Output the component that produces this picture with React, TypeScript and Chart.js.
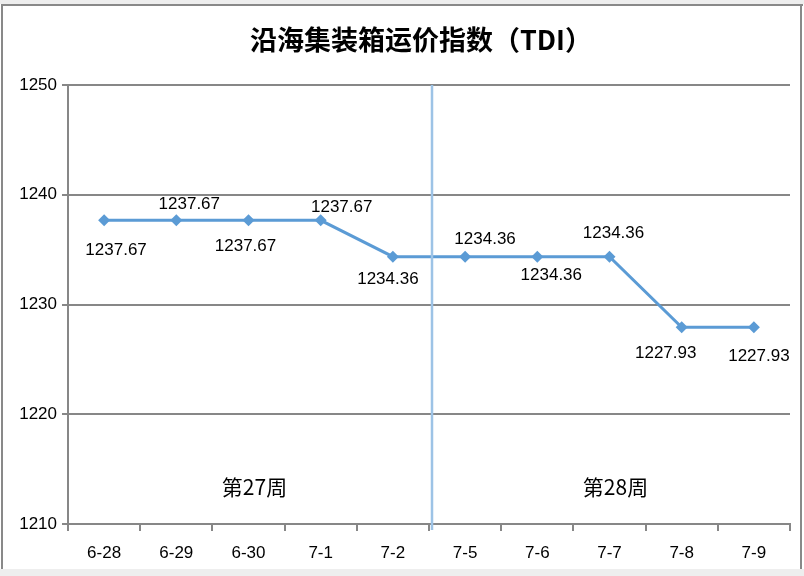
import React, { useEffect, useRef } from "react";
import { Chart, registerables } from "chart.js";

Chart.register(...registerables);

const categories = ["6-28", "6-29", "6-30", "7-1", "7-2", "7-5", "7-6", "7-7", "7-8", "7-9"];
const tdiValues = [1237.67, 1237.67, 1237.67, 1237.67, 1234.36, 1234.36, 1234.36, 1234.36, 1227.93, 1227.93];
const yMin = 1210;
const yMax = 1250;
const yStep = 10;
const chartTitle = "沿海集装箱运价指数（TDI）";
const weekLabels = ["第27周", "第28周"];
const weekStartIdx = [0, 5];
const weekEndIdx = [4, 9];

const LINE_COLOR = "#5b9bd5";
const SEP_COLOR = "#9dc3e6";
const GRID_COLOR = "#878787";
const FONT = "'Liberation Sans', Arial, sans-serif";

export default function App() {
  const ref = useRef<HTMLCanvasElement | null>(null);

  useEffect(() => {
    const canvas = ref.current;
    if (!canvas) return;

    const labelOffsets: [number, number][] = [
      [12, 30], [13, -16], [-3, 26], [21, -13], [-5, 23],
      [20, -17], [14, 19], [4, -23], [-16, 26], [5, 29],
    ];

    const framePlugin = {
      id: "frame",
      beforeDraw(chart: any) {
        const ctx = chart.ctx;
        ctx.save();
        ctx.fillStyle = "#ffffff";
        ctx.fillRect(0, 0, 804, 576);
        ctx.fillStyle = "#eeeeee";
        ctx.fillRect(0, 0, 804, 4);
        ctx.fillRect(0, 569, 804, 7);
        ctx.fillStyle = "#898989";
        ctx.fillRect(1, 4, 802, 2);
        ctx.fillRect(1, 4, 2, 565);
        ctx.fillRect(800, 4, 2, 565);
        // title
        ctx.fillStyle = "#000000";
        ctx.font = "bold 27px 'Noto Sans CJK SC', sans-serif";
        ctx.textAlign = "center";
        ctx.textBaseline = "middle";
        ctx.fillText(chartTitle, 421, 40);
        ctx.restore();
      },
    };

    const overlayPlugin = {
      id: "overlay",
      afterDatasetsDraw(chart: any) {
        const ctx = chart.ctx;
        const xs = chart.scales.x;
        const ys = chart.scales.y;
        const area = chart.chartArea;
        ctx.save();
        // separator between weeks
        const sepX = (xs.getPixelForValue(weekEndIdx[0]) + xs.getPixelForValue(weekStartIdx[1])) / 2 + 3;
        ctx.strokeStyle = SEP_COLOR;
        ctx.lineWidth = 2.5;
        ctx.beginPath();
        ctx.moveTo(sepX, area.top);
        ctx.lineTo(sepX, area.bottom + 6);
        ctx.stroke();
        // week labels
        ctx.fillStyle = "#000000";
        ctx.font = "21px 'Noto Sans CJK SC', sans-serif";
        ctx.textAlign = "center";
        ctx.textBaseline = "middle";
        const wy = ys.getPixelForValue(1213.4);
        weekLabels.forEach((w, i) => {
          const cx = (xs.getPixelForValue(weekStartIdx[i]) + xs.getPixelForValue(weekEndIdx[i])) / 2 + 6;
          ctx.fillText(w, cx, wy);
        });
        // data labels
        ctx.font = "17px " + FONT;
        const meta = chart.getDatasetMeta(0);
        meta.data.forEach((pt: any, i: number) => {
          const [dx, dy] = labelOffsets[i];
          ctx.fillText(tdiValues[i].toFixed(2), pt.x + dx, pt.y + dy);
        });
        ctx.restore();
      },
    };

    const chart = new Chart(canvas, {
      type: "line",
      data: {
        labels: categories,
        datasets: [
          {
            data: tdiValues,
            borderColor: LINE_COLOR,
            backgroundColor: LINE_COLOR,
            borderWidth: 3,
            pointStyle: "rectRot",
            pointRadius: 6,
            pointBorderWidth: 0,
            pointBackgroundColor: LINE_COLOR,
            tension: 0,
          },
        ],
      },
      options: {
        animation: false,
        responsive: false,
        devicePixelRatio: 1,
        layout: { padding: { top: 85, right: 14, left: 0, bottom: 0 } },
        plugins: {
          legend: { display: false },
          title: { display: false },
          tooltip: { enabled: false },
        },
        scales: {
          x: {
            offset: true,
            grid: {
              offset: true,
              drawOnChartArea: false,
              drawTicks: true,
              tickLength: 7,
              color: GRID_COLOR,
              lineWidth: 2,
            },
            border: { color: GRID_COLOR, width: 2 },
            ticks: {
              color: "#000000",
              font: { family: FONT, size: 17 },
              padding: 12,
              maxRotation: 0,
              autoSkip: false,
            },
            afterFit(scale: any) {
              scale.height = 52;
            },
          },
          y: {
            min: yMin,
            max: yMax,
            grid: {
              color: GRID_COLOR,
              lineWidth: 2,
              tickLength: 6,
            },
            border: { color: GRID_COLOR, width: 2 },
            ticks: {
              stepSize: yStep,
              color: "#000000",
              font: { family: FONT, size: 17 },
              padding: 5,
              callback: (v: any) => String(v),
            },
            afterFit(scale: any) {
              scale.width = 68;
            },
          },
        },
      },
      plugins: [framePlugin, overlayPlugin],
    });

    return () => chart.destroy();
  }, []);

  return (
    <div style={{ position: "fixed", left: 0, top: 0, width: 804, height: 576 }}>
      <canvas ref={ref} width={804} height={576} style={{ display: "block" }} />
    </div>
  );
}
